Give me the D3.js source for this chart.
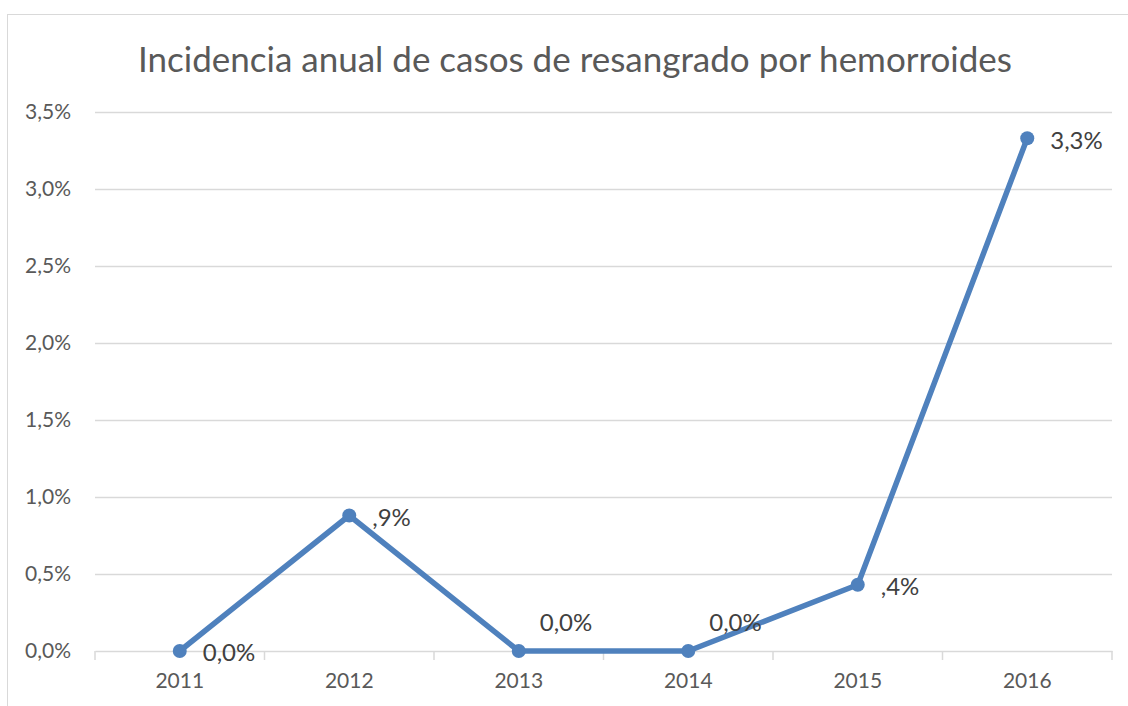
<!DOCTYPE html>
<html>
<head>
<meta charset="utf-8">
<script src="https://cdn.jsdelivr.net/npm/d3@7"></script>
<style>
  body { margin: 0; background: #fff; }
  svg { display: block; font-family: Lato, "Open Sans", sans-serif; }
</style>
</head>
<body>
<svg id="chart" width="1128" height="706"></svg>
<script>
// data
const years = ['2011', '2012', '2013', '2014', '2015', '2016'];
const rates = [0.0, 0.0088, 0.0, 0.0, 0.0043, 0.0333];
const rateLabels = ['0,0%', ',9%', '0,0%', '0,0%', ',4%', '3,3%'];
const yTicks = [0, 0.005, 0.01, 0.015, 0.02, 0.025, 0.03, 0.035];
const title = 'Incidencia anual de casos de resangrado por hemorroides';

const svg = d3.select('#chart');
const margin = { top: 112, right: 16, bottom: 55, left: 95 };
const width = 1128 - margin.left - margin.right;
const height = 706 - margin.top - margin.bottom;

// chart frame
svg.append('rect')
    .attr('x', 7.5).attr('y', 14.5)
    .attr('width', 1130).attr('height', 700)
    .attr('fill', 'none')
    .attr('stroke', '#d9d9d9');

svg.append('text')
    .attr('x', 575).attr('y', 72)
    .attr('text-anchor', 'middle')
    .attr('fill', '#595959')
    .style('font-size', '35px')
    .text(title);

const g = svg.append('g').attr('transform', `translate(${margin.left},${margin.top})`);

const x = d3.scaleBand().domain(years).range([0, width]);
const y = d3.scaleLinear().domain([0, 0.035]).range([height, 0]);
const fmt = d => d3.format('.1f')(d * 100).replace('.', ',') + '%';

// gridlines
g.selectAll('.grid')
    .data(yTicks.slice(1))
    .enter().append('line')
    .attr('x1', 0).attr('x2', width)
    .attr('y1', d => Math.round(y(d)) + 0.5).attr('y2', d => Math.round(y(d)) + 0.5)
    .attr('stroke', '#d9d9d9')
    .attr('stroke-width', 1.5);

// y axis labels
const yAxis = g.append('g')
    .call(d3.axisLeft(y).tickValues(yTicks).tickFormat(fmt).tickSize(0).tickPadding(24));
yAxis.select('.domain').remove();
yAxis.selectAll('text')
    .attr('fill', '#595959')
    .style('font-size', '21px')
    .style('font-family', 'Lato, sans-serif');

// x axis
const xAxis = g.append('g')
    .attr('transform', `translate(0,${height})`)
    .call(d3.axisBottom(x).tickSize(0).tickPadding(22));
xAxis.select('.domain')
    .attr('stroke', '#d9d9d9')
    .attr('stroke-width', 1.5);
xAxis.selectAll('text')
    .attr('fill', '#595959')
    .style('font-size', '21px')
    .style('font-family', 'Lato, sans-serif');

// tick marks between categories
const bounds = years.map(d => x(d)).concat([width]);
g.selectAll('.xtick')
    .data(bounds)
    .enter().append('line')
    .attr('x1', d => d).attr('x2', d => d)
    .attr('y1', height).attr('y2', height + 9)
    .attr('stroke', '#d9d9d9')
    .attr('stroke-width', 1.5);

const cx = i => x(years[i]) + x.bandwidth() / 2;

// line
const line = d3.line()
    .x((d, i) => cx(i))
    .y(d => y(d));

g.append('path')
    .datum(rates)
    .attr('d', line)
    .attr('fill', 'none')
    .attr('stroke', '#4f81bd')
    .attr('stroke-width', 5.5)
    .attr('stroke-linejoin', 'round');

g.selectAll('.dot')
    .data(rates)
    .enter().append('circle')
    .attr('cx', (d, i) => cx(i))
    .attr('cy', d => y(d))
    .attr('r', 7)
    .attr('fill', '#4f81bd');

// data labels: most sit to the right, the two flat ones sit above
const above = { '2013': true, '2014': true };
g.selectAll('.lbl')
    .data(rates)
    .enter().append('text')
    .attr('x', (d, i) => above[years[i]] ? cx(i) + 21 : cx(i) + 23)
    .attr('y', (d, i) => above[years[i]] ? y(d) - 28 : y(d) + 2)
    .attr('dy', '0.35em')
    .attr('fill', '#404040')
    .style('font-size', '24px')
    .text((d, i) => rateLabels[i]);
</script>
</body>
</html>
